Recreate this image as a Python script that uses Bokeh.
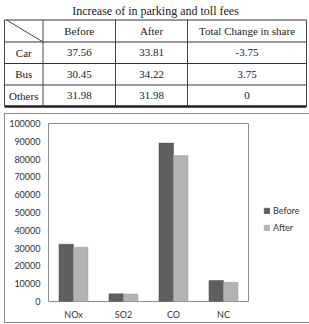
from bokeh.plotting import figure
from bokeh.models import (Range1d, FactorRange, Legend, LegendItem, ColumnDataSource,
                          FixedTicker, NumeralTickFormatter)
from bokeh.transform import dodge
from bokeh.core.properties import value
from bokeh.embed import file_html
from bokeh.resources import INLINE

# ---- data ----
table_title = "Increase of in parking and toll fees"
headers = ["Before", "After", "Total Change in share"]
modes = ["Car", "Bus", "Others"]
before_share = [37.56, 30.45, 31.98]
after_share = [33.81, 34.22, 31.98]
change_share = [-3.75, 3.75, 0]

pollutants = ["NOx", "SO2", "CO", "NC"]
before_em = [32200, 4300, 89000, 11800]
after_em = [30500, 4200, 82000, 10800]
y_ticks = list(range(0, 100001, 10000))

SERIF = value("Liberation Serif")
SANS = "Lato"

# ---- table figure ----
W, TH = 309, 110
t = figure(width=W, height=TH, x_range=Range1d(0, W), y_range=Range1d(TH, 0),
           x_axis_type=None, y_axis_type=None,
           output_backend="svg", toolbar_location=None, min_border=0)
t.min_border_left = t.min_border_right = t.min_border_top = t.min_border_bottom = 0
t.grid.visible = False
t.outline_line_color = None

col_edges = [4, 42.5, 115, 187, 306]
row_edges = [19.5, 41.5, 63, 84.5, 106]

t.text(x=[155], y=[10], text=[table_title], text_font=SERIF, text_font_size="12px",
       text_align="center", text_baseline="middle", text_color="#222222")
t.segment(x0=[col_edges[0]] * 4, x1=[col_edges[-1]] * 4, y0=row_edges[:4], y1=row_edges[:4],
          line_color="#333333", line_width=1)
t.segment(x0=[col_edges[0]], x1=[col_edges[-1]], y0=[row_edges[4]], y1=[row_edges[4]],
          line_color="#222222", line_width=2.5)
t.segment(x0=col_edges, x1=col_edges, y0=[row_edges[0]] * 5, y1=[row_edges[4]] * 5,
          line_color="#444444", line_width=1)
t.segment(x0=[col_edges[0] + 2], y0=[row_edges[0]], x1=[col_edges[1]], y1=[row_edges[1]],
          line_color="#444444", line_width=1)

cx = [(col_edges[i] + col_edges[i + 1]) / 2 for i in range(4)]
cy = [(row_edges[i] + row_edges[i + 1]) / 2 for i in range(4)]

def cells(xs, ys, texts):
    t.text(x=xs, y=ys, text=texts, text_font=SERIF, text_font_size="11px",
           text_align="center", text_baseline="middle", text_color="#222222")

cells(cx[1:], [cy[0]] * 3, headers)
cells([cx[0]] * 3, cy[1:], modes)
cells([cx[1]] * 3, cy[1:], [f"{v:.2f}" for v in before_share])
cells([cx[2]] * 3, cy[1:], [f"{v:.2f}" for v in after_share])
cells([cx[3]] * 3, cy[1:], [f"{v:g}" for v in change_share])

# ---- chart figure ----
p = figure(frame_width=200, frame_height=178, x_range=FactorRange(*pollutants, range_padding=0),
           y_range=Range1d(0, 100000), output_backend="svg", toolbar_location=None)
p.min_border_left = 43
p.min_border_right = 57
p.min_border_top = 9
p.min_border_bottom = 21
p.outline_line_color = "#8c8c8c"
p.grid.visible = False
p.margin = (3, 0, 0, 4)
p.styles = {"border": "1px solid #8c8c8c"}

src = ColumnDataSource(dict(cat=pollutants, before=before_em, after=after_em))
r1 = p.vbar(x=dodge("cat", -0.145, range=p.x_range), top="before", width=0.29, source=src,
            fill_color="#5f5f5f", line_color="#4a4a4a", line_width=0.5)
r2 = p.vbar(x=dodge("cat", 0.145, range=p.x_range), top="after", width=0.29, source=src,
            fill_color="#b3b3b3", line_color="#a0a0a0", line_width=0.5)

p.yaxis.ticker = FixedTicker(ticks=y_ticks)
p.yaxis.formatter = NumeralTickFormatter(format="0")
for ax in (p.xaxis[0], p.yaxis[0]):
    ax.axis_line_color = None
    ax.major_tick_line_color = None
    ax.minor_tick_line_color = None
    ax.major_tick_out = 0
    ax.major_tick_in = 0
    ax.minor_tick_out = 0
    ax.minor_tick_in = 0
    ax.major_label_text_font = SANS
    ax.major_label_text_font_size = "9px"
    ax.major_label_text_color = "#333333"
p.yaxis.major_label_standoff = 8
p.xaxis.major_label_standoff = 7

legend = Legend(items=[LegendItem(label="Before", renderers=[r1]),
                       LegendItem(label="After", renderers=[r2])],
                location=(15, 68), background_fill_alpha=0, border_line_color=None,
                label_text_font=SANS, label_text_font_size="9px", label_text_color="#333333",
                glyph_width=7, glyph_height=7, label_standoff=3, spacing=5, padding=0,
                margin=0, label_height=12, label_width=25)
p.add_layout(legend, "right")

open("out.html", "w").write(file_html([t, p], INLINE))
